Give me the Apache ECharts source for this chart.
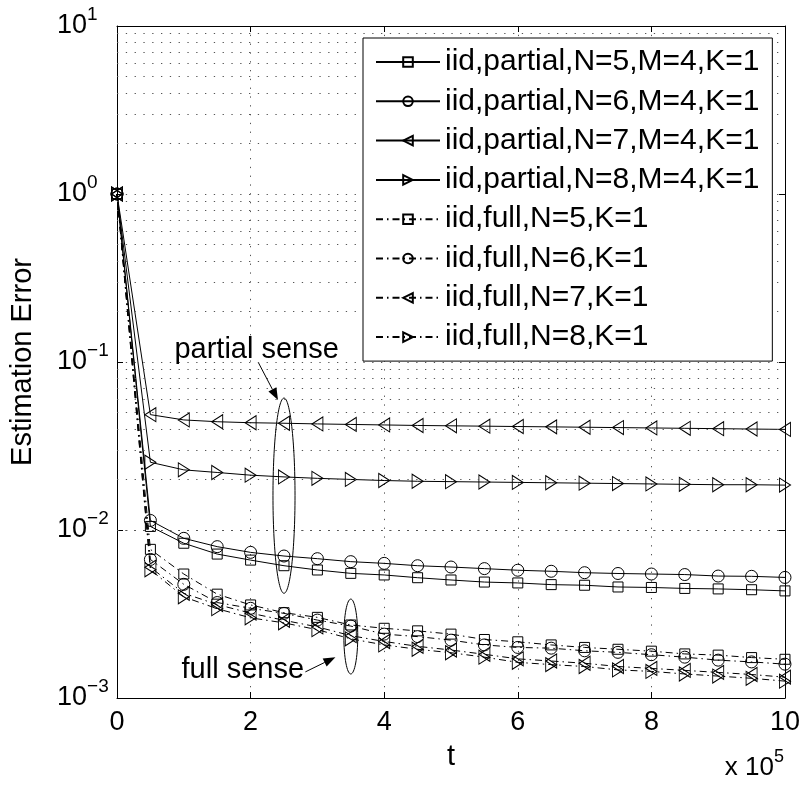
<!DOCTYPE html>
<html><head><meta charset="utf-8">
<script src="https://cdn.jsdelivr.net/npm/echarts@6/dist/echarts.min.js"></script>
<style>html,body{margin:0;padding:0;background:#fff}#c{width:803px;height:787px}</style>
</head><body><div id="c"></div>
<script>
// ---- data (t in units of 1e5) ----
const tValues = [0,0.5,1,1.5,2,2.5,3,3.5,4,4.5,5,5.5,6,6.5,7,7.5,8,8.5,9,9.5,10];
const partialN5 = [1,0.0105,0.00834,0.00719,0.00662,0.00613,0.00578,0.00552,0.00540,0.00520,0.00504,0.00490,0.00484,0.00473,0.00469,0.00458,0.00455,0.00449,0.00446,0.00441,0.00434];
const partialN6 = [1,0.0114,0.00892,0.00796,0.00736,0.00700,0.00675,0.00648,0.00633,0.00613,0.00602,0.00589,0.00576,0.00568,0.00557,0.00551,0.00547,0.00543,0.00532,0.00530,0.00522];
const partialN7 = [1,0.0486,0.0452,0.0441,0.0435,0.0432,0.0428,0.0425,0.0422,0.0419,0.0417,0.0415,0.0413,0.0411,0.0409,0.0407,0.0405,0.0403,0.0401,0.0399,0.0397];
const partialN8 = [1,0.0253,0.0228,0.0220,0.0212,0.0207,0.0203,0.0200,0.0197,0.0195,0.0194,0.0193,0.0192,0.0191,0.0190,0.0189,0.0188,0.0187,0.0186,0.0186,0.0185];
const fullN5 = [1,0.00767,0.00547,0.00415,0.00358,0.00322,0.00302,0.00272,0.00260,0.00251,0.00240,0.00223,0.00216,0.00207,0.00200,0.00195,0.00190,0.00183,0.00180,0.00174,0.00170];
const fullN6 = [1,0.00668,0.00475,0.00370,0.00342,0.00319,0.00291,0.00268,0.00240,0.00232,0.00221,0.00207,0.00200,0.00198,0.00191,0.00187,0.00181,0.00175,0.00168,0.00164,0.00159];
const fullN7 = [1,0.00600,0.00420,0.00360,0.00320,0.00290,0.00265,0.00235,0.00217,0.00203,0.00193,0.00182,0.00171,0.00166,0.00161,0.00154,0.00150,0.00146,0.00142,0.00138,0.00133];
const fullN8 = [1,0.00580,0.00400,0.00340,0.00300,0.00280,0.00255,0.00225,0.00207,0.00195,0.00186,0.00175,0.00163,0.00158,0.00154,0.00147,0.00144,0.00139,0.00135,0.00131,0.00126];
const seriesNames = ['iid,partial,N=5,M=4,K=1','iid,partial,N=6,M=4,K=1','iid,partial,N=7,M=4,K=1','iid,partial,N=8,M=4,K=1',
  'iid,full,N=5,K=1','iid,full,N=6,K=1','iid,full,N=7,K=1','iid,full,N=8,K=1'];
const xTickInterval = 2;
const yMinorGrid = [0.002,0.003,0.004,0.005,0.006,0.007,0.008,0.009,0.02,0.03,0.04,0.05,0.06,0.07,0.08,0.09,
  0.2,0.3,0.4,0.5,0.6,0.7,0.8,0.9,2,3,4,5,6,7,8,9];

const FONT = '"Liberation Sans", Arial, Helvetica, sans-serif';
const dotted = {type:[1.3,7.5], color:'#555', width:1};

const allValues = [partialN5,partialN6,partialN7,partialN8,fullN5,fullN6,fullN7,fullN8];
const symbols = ['rect','circle','triangle','triangle','rect','circle','triangle','triangle'];
const rotates = [0,0,90,-90,0,0,90,-90];
const sizes = [[10,10],[12,12],[14,11],[14,11],[10,10],[12,12],[14,11],[14,11]];

const series = allValues.map((vals,i)=>({
  name: seriesNames[i],
  type:'line',
  data: tValues.map((t,j)=>[t, vals[j]]),
  symbol: symbols[i],
  symbolRotate: rotates[i],
  symbolSize: sizes[i],
  showAllSymbol: true,
  itemStyle:{color:'rgba(0,0,0,0)', borderColor:'#000', borderWidth:1},
  lineStyle:{color:'#000', width:1, type: i<4 ? 'solid' : [7,4,1.5,4]},
  emphasis:{disabled:true},
  z: 3
}));
series[0].markLine = {
  silent:true, symbol:'none', label:{show:false}, animation:false,
  lineStyle: dotted,
  data: yMinorGrid.map(v=>({yAxis:v}))
};

const chart = echarts.init(document.getElementById('c'), null, {renderer:'canvas'});
const supFmt = v => { const e = Math.round(Math.log10(v)); return '{b|10}{s|' + (e<0?'\u2212':'') + Math.abs(e) + '}'; };
chart.setOption({
  animation:false,
  backgroundColor:'#fff',
  grid:{left:112, top:26, right:18, bottom:89, containLabel:false},
  legend:{
    data: seriesNames,
    orient:'vertical', left:363, top:38,
    itemWidth:64, itemHeight:12, itemGap:9.3,
    padding:[9,13,9,12],
    borderColor:'#000', borderWidth:1, borderRadius:0, backgroundColor:'#fff',
    textStyle:{fontSize:30, fontFamily:FONT, color:'#000', lineHeight:30},
    selectedMode:false, z:10
  },
  xAxis:[{
    type:'value', min:0, max:10, interval:xTickInterval,
    name:'t', nameLocation:'middle', nameGap:44,
    nameTextStyle:{fontSize:29, fontFamily:FONT, color:'#000'},
    axisLine:{show:true, onZero:false, lineStyle:{color:'#000', width:1}},
    axisTick:{show:true, inside:true, length:6, lineStyle:{color:'#000'}},
    axisLabel:{fontSize:27, fontFamily:FONT, color:'#000', margin:11},
    splitLine:{show:true, lineStyle: dotted}
  },{
    type:'value', min:0, max:10, interval:xTickInterval, position:'top',
    axisLine:{show:true, onZero:false, lineStyle:{color:'#000', width:1}},
    axisTick:{show:true, inside:true, length:6, lineStyle:{color:'#000'}},
    axisLabel:{show:false}, splitLine:{show:false}
  }],
  yAxis:[{
    type:'log', logBase:10, min:0.001, max:10,
    name:'Estimation Error', nameLocation:'middle', nameGap:80,
    nameTextStyle:{fontSize:29, fontFamily:FONT, color:'#000'},
    axisLine:{show:true, onZero:false, lineStyle:{color:'#000', width:1}},
    axisTick:{show:true, inside:true, length:6, lineStyle:{color:'#000'}},
    axisLabel:{formatter:supFmt, align:'left', margin:60,
      rich:{b:{fontSize:27, fontFamily:FONT, color:'#000'},
            s:{fontSize:19, fontFamily:FONT, color:'#000', padding:[0,0,22,0]}}},
    splitLine:{show:true, lineStyle: dotted}
  },{
    type:'log', logBase:10, min:0.001, max:10, position:'right',
    axisLine:{show:true, onZero:false, lineStyle:{color:'#000', width:1}},
    axisTick:{show:true, inside:true, length:6, lineStyle:{color:'#000'}},
    axisLabel:{show:false}, splitLine:{show:false}
  }],
  series: series
});

// ---- annotations anchored in data coordinates ----
const P = (t,v) => chart.convertToPixel({xAxisIndex:0, yAxisIndex:0}, [t,v]);
const partialEllipse = {t:2.5, top:0.061, bot:0.0042, half:0.165};
const fullEllipse = {t:3.5, top:0.00388, bot:0.00139, half:0.104};
function ell(e){
  const a = P(e.t - e.half, e.top), b = P(e.t + e.half, e.bot);
  return {type:'ellipse', shape:{cx:(a[0]+b[0])/2, cy:(a[1]+b[1])/2, rx:(b[0]-a[0])/2, ry:(b[1]-a[1])/2},
    style:{fill:'none', stroke:'#000', lineWidth:1}, z:20};
}
function arrow(from, to){
  const p0 = P(from[0],from[1]), p1 = P(to[0],to[1]);
  const ang = Math.atan2(p1[1]-p0[1], p1[0]-p0[0]);
  const L = 12, W = 4.5;
  const bx = p1[0]-L*Math.cos(ang), by = p1[1]-L*Math.sin(ang);
  const nx = -Math.sin(ang), ny = Math.cos(ang);
  return [
    {type:'line', shape:{x1:p0[0], y1:p0[1], x2:bx, y2:by}, style:{stroke:'#000', lineWidth:1}, z:20},
    {type:'polygon', shape:{points:[[p1[0],p1[1]],[bx+nx*W,by+ny*W],[bx-nx*W,by-ny*W]]}, style:{fill:'#000'}, z:20}
  ];
}
const pTxt = P(0.86, 0.118), fTxt = P(0.966, 0.00147);
const xr = P(10, 0.001);
chart.setOption({graphic:[
  ell(partialEllipse), ell(fullEllipse),
  ...arrow([2.12,0.0986],[2.41,0.0594]),
  ...arrow([2.82,0.00143],[3.27,0.00175]),
  {type:'text', x:pTxt[0], y:pTxt[1], style:{text:'partial sense', font:'29px '+FONT, fill:'#000', textVerticalAlign:'middle'}, z:20},
  {type:'text', x:fTxt[0], y:fTxt[1], style:{text:'full sense', font:'29px '+FONT, fill:'#000', textVerticalAlign:'middle'}, z:20},
  {type:'text', x:xr[0]-1, y:xr[1]+70, style:{text:'{b|x 10}{s|5}', textAlign:'right', textVerticalAlign:'middle',
    rich:{b:{fontSize:26, fontFamily:FONT, fill:'#000'}, s:{fontSize:18, fontFamily:FONT, fill:'#000', padding:[0,0,22,0]}}}, z:20}
]});
</script></body></html>
